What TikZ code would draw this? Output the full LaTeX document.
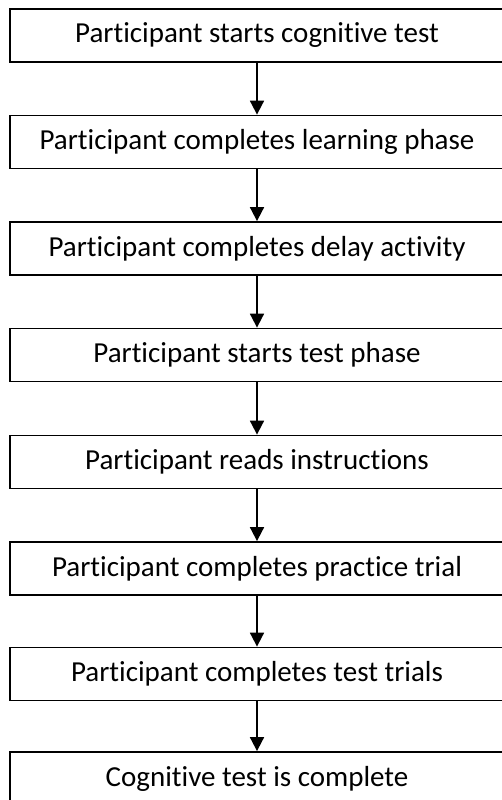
\documentclass[tikz,border=0pt]{standalone}
\usepackage{fontspec}
\setmainfont{Carlito}[Ligatures=NoCommon]
\usetikzlibrary{arrows.meta}
\tikzset{
  stepbox/.style={draw=black, line width=1.8pt, fill=white, minimum width=494pt, minimum height=53pt, inner sep=0pt, font=\fontsize{29}{34}\selectfont, text=black},
  flow/.style={draw=black, line width=1.8pt, -{Triangle[width=14pt,length=14pt]}}
}
\begin{document}
\begin{tikzpicture}[x=1pt,y=-1pt]
\useasboundingbox (0,0) rectangle (502,800);
\node[stepbox] (b1) at (257,35.5) {Participant starts cognitive test};
\node[stepbox] (b2) at (257,142) {Participant completes learning phase};
\node[stepbox] (b3) at (257,248.5) {Participant completes delay activity};
\node[stepbox] (b4) at (257,355) {Participant starts test phase};
\node[stepbox] (b5) at (257,462) {Participant reads instructions};
\node[stepbox] (b6) at (257,568.5) {Participant completes practice trial};
\node[stepbox] (b7) at (257,674) {Participant completes test trials};
\node[stepbox] (b8) at (257,778.5) {Cognitive test is complete};
\draw[flow] (b1.south) -- (b2.north);
\draw[flow] (b2.south) -- (b3.north);
\draw[flow] (b3.south) -- (b4.north);
\draw[flow] (b4.south) -- (b5.north);
\draw[flow] (b5.south) -- (b6.north);
\draw[flow] (b6.south) -- (b7.north);
\draw[flow] (b7.south) -- (b8.north);
\end{tikzpicture}
\end{document}
